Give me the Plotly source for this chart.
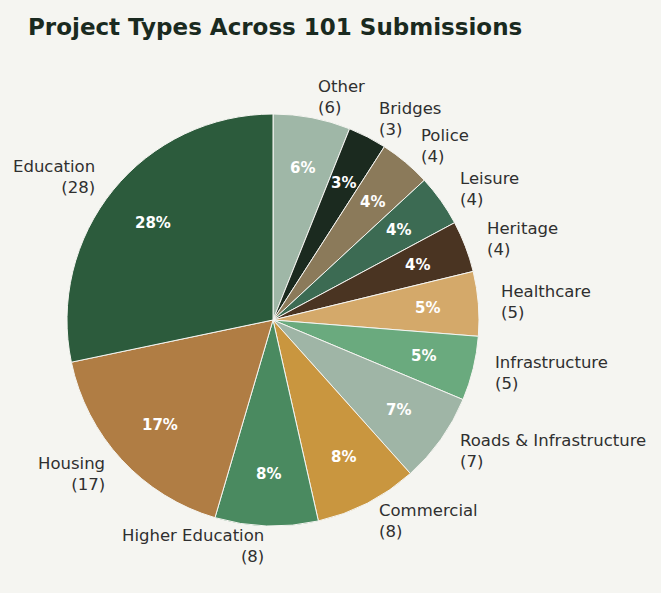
import math
import plotly.graph_objects as go

categories = ["Other", "Bridges", "Police", "Leisure", "Heritage", "Healthcare",
              "Infrastructure", "Roads & Infrastructure", "Commercial",
              "Higher Education", "Housing", "Education"]
counts = [6, 3, 4, 4, 4, 5, 5, 7, 8, 8, 17, 28]
colors = ["#9fb7a7", "#1b2a1f", "#8b7a5a", "#3c6b53", "#4a3422", "#d4a96a",
          "#6aaa7e", "#9fb5a6", "#c9963f", "#4a8a60", "#b07d44", "#2c5b3c"]

W, H = 661, 593
CX, CY, R = 273, 320, 206  # pixel geometry of the pie
BG = "#f5f5f1"

fig = go.Figure(go.Pie(
    labels=categories, values=counts, sort=False, direction="clockwise",
    rotation=0, marker=dict(colors=colors, line=dict(color=BG, width=1)),
    textinfo="none", hoverinfo="label+value+percent",
    domain=dict(x=[(CX - R) / W, (CX + R) / W], y=[(H - CY - R) / H, (H - CY + R) / H]),
    showlegend=False,
))

total = sum(counts)
annotations = []
cum = 0
for name, v in zip(categories, counts):
    mid = (cum + v / 2) / total * 2 * math.pi
    cum += v
    s, c = math.sin(mid), math.cos(mid)
    # outside label
    lx = CX + 1.1 * R * s
    ly = CY - 1.1 * R * c
    annotations.append(dict(
        x=lx / W, y=1 - ly / H, xref="paper", yref="paper",
        text=f"{name}<br>({v})", showarrow=False,
        xanchor="left" if s > 0 else "right", yanchor="middle",
        align="left" if s > 0 else "right",
        font=dict(family="DejaVu Sans", size=16.5, color="#2f2f2f"),
    ))
    # percent label
    px = CX + 0.75 * R * s
    py = CY - 0.75 * R * c
    annotations.append(dict(
        x=px / W, y=1 - py / H, xref="paper", yref="paper",
        text=f"<b>{round(v / total * 100):.0f}%</b>", showarrow=False,
        xanchor="center", yanchor="middle",
        font=dict(family="DejaVu Sans", size=15, color="white"),
    ))

fig.update_layout(
    width=W, height=H,
    paper_bgcolor=BG, plot_bgcolor=BG,
    margin=dict(l=0, r=0, t=0, b=0),
    title=dict(text="<b>Project Types Across 101 Submissions</b>",
               x=28 / W, xanchor="left", y=1 - 27 / H, yanchor="middle",
               font=dict(family="DejaVu Sans", size=23, color="#1a2a20")),
    annotations=annotations,
)

fig.write_html("out.html", config={"displayModeBar": False},
               post_script="document.body.style.margin='0';")
